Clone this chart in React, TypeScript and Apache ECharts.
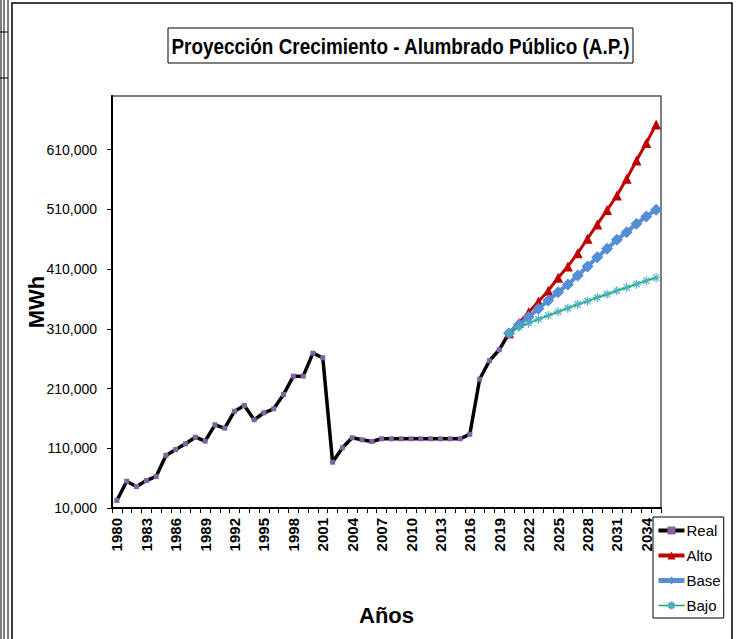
import React, { useEffect, useRef } from "react";
import * as echarts from "echarts";

const years: string[] = [];
for (let y = 1980; y <= 2035; y++) years.push(String(y));

// Real 1980–2020
const realValues = [
  22600, 54900, 46000, 56000, 62800, 98000, 108000, 117500, 128600, 121900,
  149300, 143700, 172100, 181700, 157700, 169500, 176200, 200100, 230800, 230800,
  269300, 261600, 86700, 110800, 127600, 124200, 121400, 125900, 125900, 125900,
  125900, 125900, 125900, 125900, 125900, 125900, 133600, 225700, 256600, 275000,
  302800,
];
// Projections 2020–2035
const altoValues = [
  302800, 320000, 338000, 356000, 374000, 395600, 414500, 436800, 460900, 484900,
  509000, 533400, 561400, 592100, 621100, 652400,
];
const baseValues = [
  302800, 317000, 330000, 343700, 357600, 371500, 384400, 399500, 414500, 430100,
  444200, 459200, 472000, 486000, 498300, 509500,
];
const bajoValues = [
  302800, 312900, 319600, 326300, 332400, 338600, 344700, 350900, 356400, 362600,
  368100, 373800, 379300, 384900, 390600, 395600,
];
const yTicks = [10000, 110000, 210000, 310000, 410000, 510000, 610000];
const titleText = "Proyección Crecimiento - Alumbrado Público (A.P.)";

const ARIAL = "'Liberation Sans', Arial, sans-serif";

const projStart = 2020 - 1980;
function pad(vals: number[]) {
  const out: (number | null)[] = [];
  for (let i = 0; i < years.length; i++) {
    const j = i - projStart;
    out.push(j >= 0 && j < vals.length ? vals[j] : null);
  }
  return out;
}
function padReal(vals: number[]) {
  const out: (number | null)[] = [];
  for (let i = 0; i < years.length; i++) out.push(i < vals.length ? vals[i] : null);
  return out;
}

const asterisk = "path://M5,0L5,10M0,5L10,5M1.5,1.5L8.5,8.5M8.5,1.5L1.5,8.5";

export default function App() {
  const ref = useRef<HTMLDivElement>(null);
  useEffect(() => {
    if (!ref.current) return;
    const chart = echarts.init(ref.current, undefined, { renderer: "svg" });
    chart.setOption({
      animation: false,
      backgroundColor: "#ffffff",
      graphic: [
        { type: "rect", shape: { x: 12, y: 3, width: 720, height: 660 }, style: { fill: "none", stroke: "#000", lineWidth: 1.5 }, z: -10 },
        { type: "line", shape: { x1: 1, y1: 0, x2: 1, y2: 639 }, style: { stroke: "#000", lineWidth: 1 } },
        { type: "line", shape: { x1: 4, y1: 0, x2: 4, y2: 639 }, style: { stroke: "#000", lineWidth: 1 } },
        { type: "line", shape: { x1: 8, y1: 0, x2: 8, y2: 639 }, style: { stroke: "#000", lineWidth: 1 } },
        { type: "line", shape: { x1: 0, y1: 32, x2: 8, y2: 32 }, style: { stroke: "#000", lineWidth: 1 } },
        { type: "line", shape: { x1: 0, y1: 78, x2: 8, y2: 78 }, style: { stroke: "#000", lineWidth: 1 } },
        { type: "rect", shape: { x: 168, y: 28, width: 465, height: 35 }, style: { fill: "#fff", stroke: "#000", lineWidth: 1 } },
        {
          type: "text",
          x: 400.5,
          y: 46,
          scaleX: 0.86,
          style: {
            text: titleText,
            fontFamily: ARIAL,
            fontSize: 22,
            fontWeight: "bold",
            fill: "#000",
            align: "center",
            verticalAlign: "middle",
          },
        },
      ],
      grid: {
        left: 112,
        top: 96,
        right: 75,
        bottom: 131,
        show: true,
        borderColor: "#555",
        borderWidth: 1.5,
        backgroundColor: "#fff",
      },
      legend: {
        orient: "vertical",
        left: 653,
        top: 517,
        padding: [6, 3, 5, 3],
        itemGap: 10,
        itemWidth: 26,
        itemHeight: 10,
        borderColor: "#000",
        borderWidth: 1,
        backgroundColor: "#fff",
        textStyle: { fontFamily: ARIAL, fontSize: 15, color: "#000", padding: [0, 0, 0, -3] },
        data: [
          { name: "Real", lineStyle: { width: 4 } },
          { name: "Alto", lineStyle: { width: 4 } },
          { name: "Base", lineStyle: { width: 5 } },
          { name: "Bajo", lineStyle: { width: 1.5 } },
        ],
      },
      xAxis: {
        type: "category",
        data: years,
        boundaryGap: true,
        name: "Años",
        nameLocation: "middle",
        nameGap: 96,
        nameTextStyle: { fontFamily: ARIAL, fontSize: 22, fontWeight: "bold", color: "#000" },
        axisLine: { lineStyle: { color: "#000", width: 2 } },
        axisTick: { show: true, interval: 0, alignWithLabel: false, length: 5, lineStyle: { color: "#000", width: 1 } },
        axisLabel: {
          interval: 2,
          rotate: 90,
          margin: 10,
          fontFamily: ARIAL,
          fontSize: 15,
          fontWeight: "bold",
          color: "#000",
        },
        splitLine: { show: false },
      },
      yAxis: {
        type: "value",
        min: 10000,
        max: 700000,
        name: "MWh",
        nameLocation: "middle",
        nameGap: 65,
        nameMoveOverlap: false,
        nameRotate: 90,
        nameTextStyle: { fontFamily: ARIAL, fontSize: 22, fontWeight: "bold", color: "#000" },
        axisLine: { show: true, lineStyle: { color: "#000", width: 2 } },
        axisTick: { show: true, length: 5, customValues: yTicks, lineStyle: { color: "#000", width: 1 } },
        axisLabel: {
          customValues: yTicks,
          margin: 15,
          fontFamily: ARIAL,
          fontSize: 14,
          color: "#000",
          formatter: (v: number) => v.toLocaleString("en-US"),
        },
        splitLine: { show: false },
      },
      series: [
        {
          name: "Real",
          type: "line",
          data: padReal(realValues),
          symbol: "rect",
          symbolSize: 5,
          showAllSymbol: true,
          lineStyle: { color: "#000", width: 3.5 },
          itemStyle: { color: "#8064A2" },
          z: 2,
        },
        {
          name: "Alto",
          type: "line",
          data: pad(altoValues),
          symbol: "triangle",
          symbolSize: 10,
          showAllSymbol: true,
          lineStyle: { color: "#C00000", width: 3 },
          itemStyle: { color: "#C00000" },
          z: 3,
        },
        {
          name: "Base",
          type: "line",
          data: pad(baseValues),
          symbol: "diamond",
          symbolSize: 12,
          showAllSymbol: true,
          lineStyle: { color: "#558ED5", width: 4 },
          itemStyle: { color: "#558ED5" },
          z: 4,
        },
        {
          name: "Bajo",
          type: "line",
          data: pad(bajoValues),
          symbol: asterisk,
          symbolSize: 9,
          showAllSymbol: true,
          lineStyle: { color: "#00B050", width: 1.5 },
          itemStyle: { color: "#4BACC6", borderColor: "#4BACC6", borderWidth: 1.2 },
          z: 5,
        },
      ],
    });
    return () => chart.dispose();
  }, []);
  return (
    <div
      ref={ref}
      style={{ position: "fixed", left: 0, top: 0, width: 736, height: 639 }}
    />
  );
}
